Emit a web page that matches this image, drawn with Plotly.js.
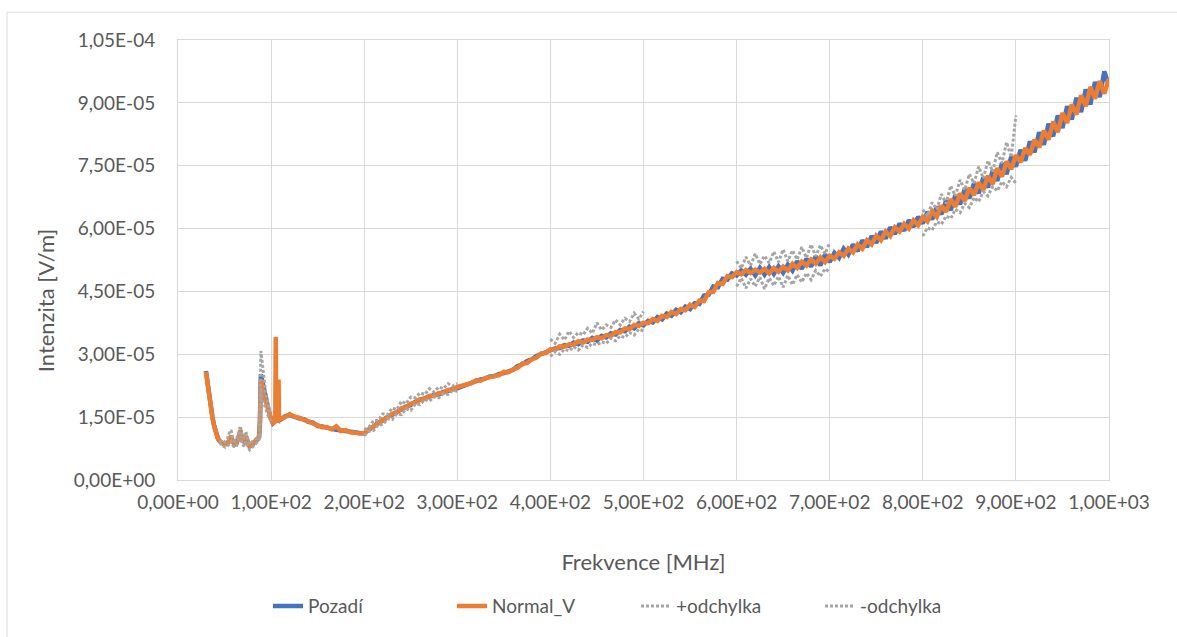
<!DOCTYPE html>
<html>
<head>
<meta charset="utf-8">
<script src="https://cdn.plot.ly/plotly-3.0.1.min.js"></script>
<style>html,body{margin:0;padding:0;background:#fff;}#chart{width:1177px;height:637px;}</style>
</head>
<body>
<div id="chart"></div>
<script>
// Frequency [MHz] for the measured lines
const freq = [30,31,33,35,37,39,41,43,45,47,49,51,53,55,57,59,61,63,65,67,69,71,73,75,77,79,81,83,85,87,88,89,90,92,94,96,98,100,102,104.5,105,105.5,107.5,108,108.5,
110,115,120,125,130,135,140,145,150,155,160,165,170,175,180,185,190,195,200,
205,210,215,220,225,230,235,240,245,250,255,260,265,270,275,280,285,290,295,300,
305,310,315,320,325,330,335,340,345,350,355,360,365,370,375,380,385,390,395,400,
405,410,415,420,425,430,435,440,445,450,455,460,465,470,475,480,485,490,495,500,
505,510,515,520,525,530,535,540,545,550,555,560,565,570,575,580,585,590,595,600,
605,610,615,620,625,630,635,640,645,650,655,660,665,670,675,680,685,690,695,700,
705,710,715,720,725,730,735,740,745,750,755,760,765,770,775,780,785,790,795,800,
805,810,815,820,825,830,835,840,845,850,855,860,865,870,875,880,885,890,895,900,
905,910,915,920,925,930,935,940,945,950,955,960,965,970,975,980,985,990,995,1000];

// Intensity in units of 1e-5 V/m
const pozadi = [2.60,2.42,2.06,1.76,1.50,1.28,1.11,0.99,0.92,0.87,0.86,0.86,0.87,0.94,1.04,0.91,0.85,0.89,1.01,1.15,0.96,0.91,1.04,0.87,0.80,0.83,0.87,0.91,0.96,1.03,1.40,2.52,2.42,2.12,1.92,1.75,1.60,1.46,1.35,1.40,1.41,1.43,1.42,1.44,1.44,
1.44,1.52,1.55,1.50,1.47,1.45,1.39,1.37,1.29,1.28,1.24,1.22,1.20,1.18,1.16,1.15,1.12,1.12,1.11,
1.21,1.27,1.37,1.42,1.51,1.55,1.63,1.69,1.75,1.79,1.87,1.91,1.96,1.98,2.03,2.04,2.10,2.12,2.18,2.19,
2.23,2.28,2.33,2.35,2.40,2.42,2.47,2.48,2.53,2.55,2.60,2.63,2.72,2.76,2.84,2.88,2.96,3.00,3.06,3.09,
3.14,3.15,3.22,3.20,3.28,3.24,3.33,3.30,3.39,3.33,3.44,3.40,3.50,3.47,3.58,3.55,3.66,3.62,3.74,3.69,
3.80,3.76,3.89,3.83,3.97,3.92,4.06,4.00,4.14,4.08,4.22,4.20,4.40,4.42,4.62,4.60,4.80,4.78,4.93,4.88,
5.00,4.90,5.04,4.88,5.06,4.90,5.08,4.92,5.10,4.95,5.14,5.00,5.22,5.04,5.28,5.09,5.34,5.12,5.38,5.20,
5.42,5.30,5.52,5.38,5.62,5.46,5.72,5.56,5.82,5.66,5.93,5.76,6.03,5.87,6.12,5.95,6.20,6.04,6.28,6.12,
6.40,6.22,6.52,6.34,6.66,6.44,6.80,6.58,6.94,6.72,7.08,6.84,7.22,6.98,7.38,7.14,7.56,7.30,7.72,7.48,
7.88,7.62,8.08,7.82,8.30,8.00,8.50,8.20,8.70,8.40,8.92,8.60,9.12,8.78,9.32,8.96,9.50,9.14,9.75,9.40];

const normalV = [2.58,2.40,2.05,1.74,1.48,1.27,1.10,0.98,0.92,0.88,0.86,0.85,0.88,0.95,1.05,0.90,0.86,0.90,1.00,1.18,0.95,0.92,1.05,0.88,0.80,0.84,0.88,0.92,0.95,1.02,1.30,2.40,2.30,2.05,1.88,1.72,1.58,1.45,1.36,1.40,3.41,1.44,1.42,2.40,1.45,
1.46,1.50,1.57,1.51,1.49,1.44,1.41,1.35,1.31,1.26,1.26,1.21,1.28,1.17,1.19,1.14,1.13,1.11,1.12,
1.19,1.29,1.35,1.44,1.49,1.58,1.61,1.71,1.73,1.82,1.85,1.93,1.94,2.01,2.00,2.07,2.08,2.15,2.16,2.22,
2.25,2.29,2.31,2.38,2.37,2.43,2.45,2.49,2.50,2.58,2.57,2.64,2.68,2.78,2.79,2.88,2.92,3.02,3.03,3.12,
3.11,3.19,3.18,3.24,3.23,3.31,3.28,3.35,3.34,3.41,3.38,3.46,3.44,3.53,3.52,3.62,3.60,3.70,3.68,3.75,
3.74,3.84,3.80,3.92,3.89,4.01,3.96,4.08,4.05,4.18,4.13,4.28,4.27,4.48,4.49,4.70,4.68,4.86,4.84,4.96,
4.91,5.01,4.94,5.02,4.95,5.04,4.93,5.06,4.97,5.09,5.00,5.16,5.06,5.21,5.12,5.26,5.16,5.31,5.20,5.35,
5.28,5.43,5.35,5.52,5.43,5.62,5.52,5.72,5.62,5.83,5.72,5.93,5.82,6.03,5.93,6.11,6.00,6.20,6.08,6.28,
6.17,6.42,6.28,6.55,6.40,6.70,6.52,6.84,6.66,6.97,6.80,7.10,6.92,7.26,7.06,7.44,7.24,7.60,7.42,7.75,
7.58,7.92,7.76,8.12,7.94,8.34,8.12,8.55,8.30,8.76,8.52,8.96,8.72,9.18,8.92,9.38,9.10,9.52,9.22,9.58];

// Frequency [MHz] for the deviation series (null rows break the line)
const freqDev = [45,47,49,51,53,55,57,59,61,63,65,67,69,71,73,75,77,79,81,83,85,87,88,89,90,92,94,96,98,100,
150,
200,205,210,215,220,225,230,235,240,245,250,255,260,265,270,275,280,285,290,295,300,
350,
400,405,410,415,420,425,430,435,440,445,450,455,460,465,470,475,480,485,490,495,500,
550,
600,605,610,615,620,625,630,635,640,645,650,655,660,665,670,675,680,685,690,695,700,
750,
800,805,810,815,820,825,830,835,840,845,850,855,860,865,870,875,880,885,890,895,900];

const plusOdchylka = [0.95,0.90,0.88,0.92,0.98,1.12,1.19,0.98,0.92,0.98,1.10,1.29,1.05,0.98,1.15,0.95,0.85,0.90,0.95,0.98,1.00,1.05,1.60,3.08,2.90,2.40,2.10,1.90,1.68,1.56,
null,
1.20,1.26,1.42,1.42,1.58,1.56,1.72,1.68,1.88,1.82,1.98,1.96,2.08,2.04,2.18,2.10,2.22,2.18,2.30,2.24,2.30,
null,
3.36,3.26,3.48,3.34,3.55,3.40,3.52,3.46,3.62,3.50,3.75,3.58,3.70,3.64,3.82,3.70,3.86,3.78,3.98,3.84,4.02,
null,
5.22,5.05,5.32,5.12,5.40,5.15,5.35,5.18,5.45,5.20,5.50,5.22,5.48,5.26,5.56,5.30,5.62,5.34,5.60,5.40,5.66,
null,
6.45,6.30,6.62,6.46,6.82,6.60,7.02,6.78,7.16,6.92,7.30,7.08,7.48,7.20,7.62,7.36,7.82,7.56,8.06,7.70,8.70];

const minusOdchylka = [0.90,0.82,0.80,0.78,0.80,0.85,0.92,0.82,0.78,0.82,0.90,1.05,0.86,0.80,0.92,0.80,0.72,0.76,0.80,0.85,0.90,0.96,1.10,2.20,2.00,1.85,1.70,1.58,1.48,1.40,
null,
1.06,1.16,1.18,1.32,1.32,1.46,1.44,1.58,1.56,1.70,1.66,1.82,1.80,1.92,1.88,1.99,1.96,2.06,2.04,2.14,2.12,
null,
2.95,3.06,3.00,3.12,3.08,3.18,3.10,3.22,3.16,3.26,3.22,3.30,3.26,3.38,3.32,3.44,3.40,3.52,3.46,3.60,3.56,
null,
4.62,4.82,4.58,4.80,4.62,4.84,4.56,4.82,4.64,4.86,4.60,4.88,4.66,4.90,4.72,4.94,4.78,5.00,4.86,5.04,4.96,
null,
5.82,6.02,5.96,6.16,6.10,6.30,6.24,6.46,6.38,6.60,6.50,6.74,6.64,6.88,6.78,7.00,6.90,7.12,7.00,7.22,7.08];

const xTicks = [0,100,200,300,400,500,600,700,800,900,1000];
const yTicks = [0,1.5e-5,3e-5,4.5e-5,6e-5,7.5e-5,9e-5,1.05e-4];

const UNIT = 1e-5;
const toSI = arr => arr.map(v => v === null ? null : v * UNIT);
function fmtE(v) {
  const s = v.toExponential(2);
  const parts = s.split('e');
  const exp = parseInt(parts[1], 10);
  const sign = exp < 0 ? '-' : '+';
  return parts[0].replace('.', ',') + 'E' + sign + String(Math.abs(exp)).padStart(2, '0');
}

const FONT = 'Lato, "Open Sans", sans-serif';
const TXT = '#595959';

const traces = [
  {x: freq, y: toSI(pozadi), name: 'Pozadí', type: 'scatter', mode: 'lines',
   line: {color: '#4472C4', width: 4.5}},
  {x: freq, y: toSI(normalV), name: 'Normal_V', type: 'scatter', mode: 'lines',
   line: {color: '#ED7D31', width: 4.5}},
  {x: freqDev, y: toSI(plusOdchylka), name: '+odchylka', type: 'scatter', mode: 'lines',
   line: {color: '#A5A5A5', width: 3, dash: '3px,2px'}, connectgaps: false},
  {x: freqDev, y: toSI(minusOdchylka), name: '-odchylka', type: 'scatter', mode: 'lines',
   line: {color: '#A5A5A5', width: 3, dash: '3px,2px'}, connectgaps: false}
];

const layout = {
  width: 1177, height: 637,
  margin: {l: 178, r: 68, t: 40, b: 154},
  paper_bgcolor: '#ffffff', plot_bgcolor: '#ffffff',
  font: {family: FONT, color: TXT, size: 19},
  showlegend: true,
  xaxis: {
    range: [0, 1000], tickvals: xTicks, ticktext: xTicks.map(fmtE),
    showgrid: true, gridcolor: '#d9d9d9', gridwidth: 1,
    showline: true, linecolor: '#d9d9d9', linewidth: 1, mirror: true,
    zeroline: false, ticks: '', ticklabelstandoff: 5,
    tickfont: {family: FONT, size: 19, color: TXT},
    title: {text: 'Frekvence [MHz]', font: {family: FONT, size: 22, color: TXT}, standoff: 42}
  },
  yaxis: {
    range: [0, 1.05e-4], tickvals: yTicks, ticktext: yTicks.map(fmtE),
    showgrid: true, gridcolor: '#d9d9d9', gridwidth: 1,
    showline: true, linecolor: '#d9d9d9', linewidth: 1, mirror: true,
    zeroline: false, ticks: '', ticklabelstandoff: 18,
    tickfont: {family: FONT, size: 19, color: TXT}
  },
  annotations: [{
    text: 'Intenzita [V/m]', xref: 'paper', yref: 'paper',
    x: (45 - 178) / 931, y: (483 - 303) / 443, xanchor: 'center', yanchor: 'middle',
    textangle: -90, showarrow: false, font: {family: FONT, size: 22, color: TXT}
  }],
  legend: {
    orientation: 'h', x: (268 - 178) / 931, xanchor: 'left', y: (483 - 610) / 443, yanchor: 'middle',
    entrywidth: 139, entrywidthmode: 'pixels',
    font: {family: FONT, size: 19, color: TXT}, bgcolor: 'rgba(0,0,0,0)'
  },
  shapes: [{
    type: 'rect', xref: 'paper', yref: 'paper',
    x0: (7 - 178) / 931, x1: (1190 - 178) / 931, y0: (483 - 650) / 443, y1: (483 - 12) / 443,
    line: {color: '#d9d9d9', width: 1}, fillcolor: 'rgba(0,0,0,0)', layer: 'below'
  }]
};

Plotly.newPlot('chart', traces, layout, {staticPlot: true, displayModeBar: false});
</script>
</body>
</html>
